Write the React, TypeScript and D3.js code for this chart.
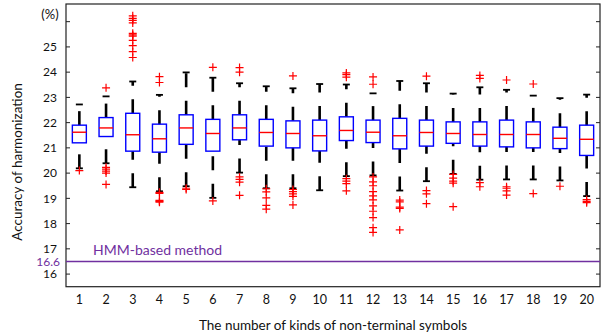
import { useEffect, useRef } from 'react';
import * as d3 from 'd3';

// kinds of non-terminal symbols
const categories = d3.range(1, 21).map(String);

// box statistics (%)
const q1 = [21.2, 21.45, 20.87, 20.83, 21.14, 20.87, 21.32, 21.07, 21.0, 20.88,
  21.29, 21.21, 20.96, 21.07, 21.18, 21.07, 21.04, 21.0, 20.97, 20.7];
const median = [21.62, 21.79, 21.52, 21.36, 21.79, 21.57, 21.79, 21.61, 21.57, 21.48,
  21.69, 21.62, 21.48, 21.61, 21.57, 21.53, 21.53, 21.53, 21.38, 21.34];
const q3 = [21.9, 22.2, 22.37, 21.94, 22.31, 22.13, 22.31, 22.13, 22.07, 22.1,
  22.23, 22.1, 22.17, 22.1, 22.03, 22.03, 22.1, 22.03, 21.82, 21.9];
const lowerWhisker = [20.19, 20.39, 19.44, 19.28, 19.48, 19.02, 20.02, 19.4, 19.4, 19.32,
  19.88, 19.91, 19.31, 19.68, 19.97, 19.74, 19.75, 19.75, 19.71, 19.09];
const upperWhisker = [22.72, 23.04, 23.63, 23.1, 23.99, 23.78, 23.56, 23.44, 23.36, 23.53,
  23.51, 23.16, 23.65, 23.56, 23.15, 23.4, 23.3, 23.07, 22.97, 23.11];
const outliers = [
  [20.1],
  [23.38, 20.23, 20.16, 20.08, 20.0, 19.55],
  [26.23, 26.13, 26.05, 25.95, 25.54, 25.48, 25.43, 25.26, 25.05, 24.81, 24.58],
  [23.82, 23.59, 19.24, 19.2, 18.92, 18.88, 18.85],
  [19.4, 19.35],
  [24.19, 18.9],
  [24.18, 24.0, 19.85, 19.75, 19.64, 19.12],
  [19.38, 19.26, 19.02, 18.72, 18.57],
  [23.85, 19.35, 19.27, 19.18, 19.08, 18.74],
  [],
  [23.97, 23.9, 23.8, 19.78, 19.68, 19.58, 19.3],
  [23.81, 23.52, 19.85, 19.65, 19.5, 19.27, 19.1, 18.94, 18.7, 18.49, 18.24, 17.84, 17.65],
  [18.93, 18.86, 18.65, 18.6, 17.75],
  [23.84, 19.31, 19.18, 18.79],
  [19.95, 19.8, 19.68, 19.6, 18.67],
  [23.87, 23.75, 19.62, 19.46],
  [23.69, 19.46, 19.4, 19.3, 19.13],
  [23.53, 19.19],
  [19.48],
  [18.95, 18.88, 18.83],
];

const yTicks = d3.range(16, 27);
const yLabels = d3.range(16, 26);
const hmmValue = 16.5;
const hmmLabel = '16.6';

export default function App() {
  const svgRef = useRef<SVGSVGElement>(null);
  const width = 603;
  const height = 335;

  useEffect(() => {
    document.body.style.margin = '0';
    if (!svgRef.current) return;
    const svg = d3.select(svgRef.current);
    svg.selectAll('*').remove();

    const left = 66, right = 600, top = 4, bottom = 286.7;
    const font = 'Lato, "Open Sans", sans-serif';
    const purple = '#7030a0';

    const x = d3.scaleBand<string>().domain(categories).range([left, right]);
    const y = d3.scaleLinear().domain([15.5, 26.7]).range([bottom, top]);
    const cx = (i: number) => (x(categories[i]) as number) + x.bandwidth() / 2;
    const boxW = 14;
    const capW = 7;

    // frame
    svg.append('rect')
      .attr('x', left).attr('y', top)
      .attr('width', right - left).attr('height', bottom - top)
      .attr('fill', 'none').attr('stroke', '#222').attr('stroke-width', 1.2);

    // y ticks on both sides, inward
    const tk = svg.append('g').attr('stroke', '#222').attr('stroke-width', 1);
    yTicks.forEach(t => {
      tk.append('line').attr('x1', left).attr('x2', left + 4).attr('y1', y(t)).attr('y2', y(t));
      tk.append('line').attr('x1', right - 4).attr('x2', right).attr('y1', y(t)).attr('y2', y(t));
    });

    svg.append('g').selectAll('text')
      .data(yLabels).enter().append('text')
      .attr('x', 57).attr('y', d => y(d)).attr('dy', '0.35em')
      .attr('text-anchor', 'end')
      .style('font-family', font).style('font-size', '12px').style('fill', '#111')
      .text(d => d);

    svg.append('text')
      .attr('x', 50).attr('y', 14).attr('dy', '0.35em').attr('text-anchor', 'middle')
      .style('font-family', font).style('font-size', '13px').style('fill', '#111')
      .text('(%)');

    // x labels
    svg.append('g').selectAll('text')
      .data(categories).enter().append('text')
      .attr('x', (_, i) => cx(i)).attr('y', 300).attr('dy', '0.35em')
      .attr('text-anchor', 'middle')
      .style('font-family', font).style('font-size', '12.5px').style('fill', '#111')
      .text(d => d);

    svg.append('text')
      .attr('x', (left + right) / 2).attr('y', 325).attr('dy', '0.35em')
      .attr('text-anchor', 'middle')
      .style('font-family', font).style('font-size', '13.5px').style('fill', '#111')
      .text('The number of kinds of non-terminal symbols');

    svg.append('text')
      .attr('transform', 'translate(17,162) rotate(-90)')
      .attr('dy', '0.35em').attr('text-anchor', 'middle')
      .style('font-family', font).style('font-size', '13.5px').style('fill', '#111')
      .text('Accuracy of harmonization');

    // HMM baseline
    svg.append('line')
      .attr('x1', left).attr('x2', right).attr('y1', y(hmmValue)).attr('y2', y(hmmValue))
      .attr('stroke', purple).attr('stroke-width', 1.5);
    svg.append('text')
      .attr('x', 60).attr('y', y(hmmValue)).attr('dy', '0.35em').attr('text-anchor', 'end')
      .style('font-family', font).style('font-size', '12px').style('fill', purple)
      .text(hmmLabel);
    svg.append('text')
      .attr('x', 93).attr('y', y(hmmValue) - 11).attr('dy', '0.35em')
      .style('font-family', font).style('font-size', '14px').style('fill', purple)
      .text('HMM-based method');

    // boxes
    const g = svg.append('g');
    categories.forEach((_, i) => {
      const c = cx(i);
      // whiskers, dashed, drawn from lower value upward
      g.append('line')
        .attr('x1', c).attr('x2', c).attr('y1', y(q3[i])).attr('y2', y(upperWhisker[i]))
        .attr('stroke', '#000').attr('stroke-width', 2.6).attr('stroke-dasharray', '14,13.5');
      g.append('line')
        .attr('x1', c).attr('x2', c).attr('y1', y(lowerWhisker[i])).attr('y2', y(q1[i]))
        .attr('stroke', '#000').attr('stroke-width', 2.6).attr('stroke-dasharray', '14,13.5');
      [upperWhisker[i], lowerWhisker[i]].forEach(v => {
        g.append('line')
          .attr('x1', c - capW / 2).attr('x2', c + capW / 2).attr('y1', y(v)).attr('y2', y(v))
          .attr('stroke', '#000').attr('stroke-width', 1.8);
      });
      g.append('rect')
        .attr('x', c - boxW / 2).attr('y', y(q3[i]))
        .attr('width', boxW).attr('height', y(q1[i]) - y(q3[i]))
        .attr('fill', 'none').attr('stroke', '#0000ff').attr('stroke-width', 1.4);
      g.append('line')
        .attr('x1', c - boxW / 2).attr('x2', c + boxW / 2)
        .attr('y1', y(median[i])).attr('y2', y(median[i]))
        .attr('stroke', '#ff0000').attr('stroke-width', 1.4);
      outliers[i].forEach(v => {
        g.append('path')
          .attr('d', `M${c - 4},${y(v)}H${c + 4}M${c},${y(v) - 4}V${y(v) + 4}`)
          .attr('stroke', '#ff0000').attr('stroke-width', 1.2).attr('fill', 'none');
      });
    });
  }, []);

  return <svg ref={svgRef} width={width} height={height} style={{ display: 'block', background: '#fff' }} />;
}
